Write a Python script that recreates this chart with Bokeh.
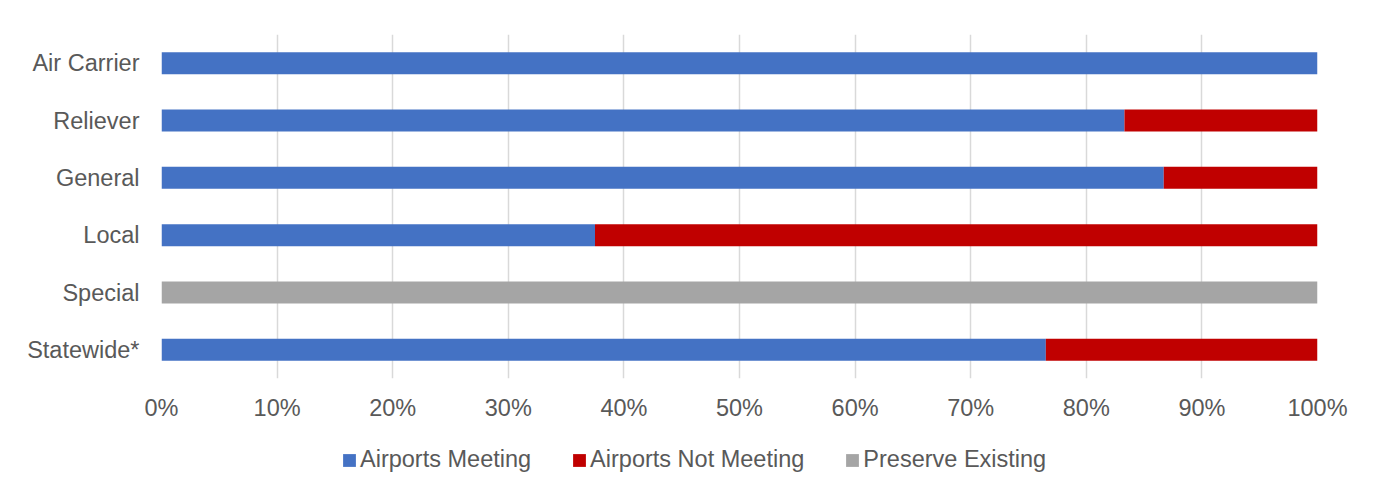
from bokeh.plotting import figure
from bokeh.models import (Range1d, FactorRange, ColumnDataSource, Legend, LegendItem,
                          FixedTicker, NumeralTickFormatter)
from bokeh.layouts import column
from bokeh.embed import file_html
from bokeh.resources import INLINE

categories = ["Air Carrier", "Reliever", "General", "Local", "Special", "Statewide*"]
meeting = [1.0, 0.833, 0.867, 0.375, 0.0, 0.765]
not_meeting = [0.0, 0.167, 0.133, 0.625, 0.0, 0.235]
preserve = [0.0, 0.0, 0.0, 0.0, 1.0, 0.0]
series_names = ["Airports Meeting", "Airports Not Meeting", "Preserve Existing"]
series_colors = ["#4472C4", "#C00000", "#A5A5A5"]
x_ticks = [0, 0.1, 0.2, 0.3, 0.4, 0.5, 0.6, 0.7, 0.8, 0.9, 1.0]

FONT = "Liberation Sans"
TXT = "#595959"
FS = "23.5px"

src = ColumnDataSource(dict(cat=categories, m=meeting, n=not_meeting, p=preserve))

p = figure(width=1362, height=430, output_backend="svg", toolbar_location=None,
           y_range=FactorRange(*reversed(categories)), x_range=Range1d(0, 1),
           min_border_left=161, min_border_right=45, min_border_top=34, min_border_bottom=52)

rs = p.hbar_stack(["m", "n", "p"], y="cat", height=0.385, source=src,
                  color=series_colors, line_color=None)

p.outline_line_color = None
p.ygrid.grid_line_color = None
p.xgrid.grid_line_color = "#D9D9D9"
p.xgrid.grid_line_width = 1.5

p.xaxis.ticker = FixedTicker(ticks=x_ticks)
p.xaxis.formatter = NumeralTickFormatter(format="0%")
for ax in (p.xaxis[0], p.yaxis[0]):
    ax.axis_line_color = None
    ax.major_tick_line_color = None
    ax.minor_tick_line_color = None
    ax.major_label_text_font = FONT
    ax.major_label_text_font_size = FS
    ax.major_label_text_color = TXT
p.yaxis.major_label_standoff = 16
p.xaxis.major_label_standoff = 10

# legend strip (separate figure so the legend can sit freely under the chart)
lg = figure(width=1362, height=46, output_backend="svg", toolbar_location=None,
            x_range=Range1d(0, 1), y_range=Range1d(0, 1),
            min_border_left=0, min_border_right=0, min_border_top=0, min_border_bottom=0)
lg.axis.visible = False
lg.grid.grid_line_color = None
lg.outline_line_color = None
# legend keys only: zero-size bars, nothing drawn in the strip itself
key_src = ColumnDataSource(dict(y=[0], r=[0]))
keys = [lg.hbar(y="y", right="r", height=0, source=key_src, color=c, line_color=None)
        for c in series_colors]

legend = Legend(items=[LegendItem(label=n, renderers=[r]) for n, r in zip(series_names, keys)],
                orientation="horizontal", location=(180, 3),
                glyph_width=16, glyph_height=16, label_standoff=3, spacing=40,
                padding=0, margin=0, border_line_color=None, background_fill_alpha=0,
                label_text_font=FONT, label_text_font_size=FS, label_text_color=TXT)
lg.add_layout(legend, "center")

layout = column(p, lg, spacing=0)
open("out.html", "w").write(file_html(layout, INLINE))
